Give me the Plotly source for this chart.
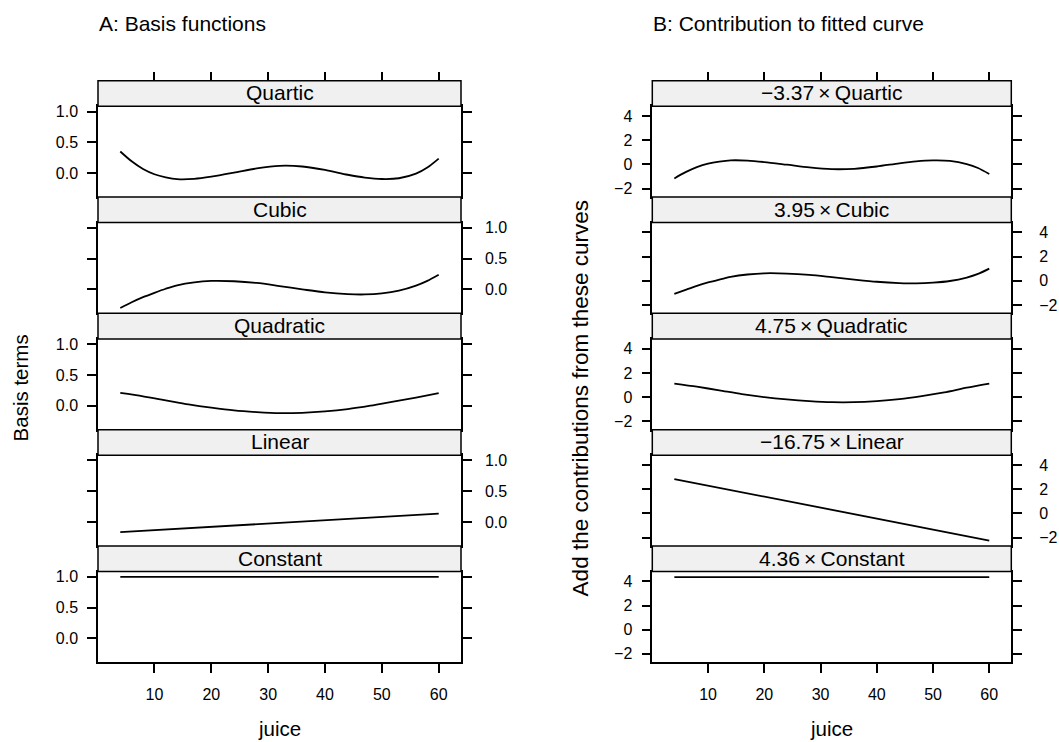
import plotly.graph_objects as go

W, H = 1059, 742

# ---------------- data ----------------
juice = [4, 6, 8, 10, 12, 14, 17, 20, 24, 28, 32, 36, 40, 44, 47, 50, 53, 56, 58, 60]
juice_q = [4, 8, 12, 16, 20, 24, 28, 32, 36, 40, 44, 48, 52, 56, 60]
juice_ends = [4, 60]

# Panel A: basis functions
quartic_A = [0.35, 0.19, 0.065, -0.02, -0.07, -0.10, -0.095, -0.06, 0.005, 0.075,
             0.117, 0.106, 0.05, -0.028, -0.074, -0.097, -0.085, -0.01, 0.09, 0.235]
cubic_A = [-0.303, -0.21, -0.127, -0.056, 0.01, 0.066, 0.115, 0.137, 0.132, 0.104,
           0.054, 0.0, -0.05, -0.078, -0.083, -0.066, -0.022, 0.06, 0.137, 0.236]
quadratic_A = [0.208, 0.153, 0.087, 0.021, -0.033, -0.078, -0.105, -0.122, -0.116,
               -0.094, -0.056, 0.0, 0.066, 0.132, 0.203]
linear_A = [-0.164, 0.136]
constant_A = [1.0, 1.0]

# Panel B: contributions to fitted curve
quartic_B = [-1.16, -0.64, -0.22, 0.07, 0.24, 0.34, 0.32, 0.20, -0.02, -0.25,
             -0.39, -0.36, -0.17, 0.09, 0.25, 0.33, 0.29, 0.03, -0.30, -0.80]
cubic_B = [-1.09, -0.75, -0.42, -0.14, 0.10, 0.32, 0.52, 0.62, 0.60, 0.49,
           0.30, 0.10, -0.08, -0.19, -0.22, -0.16, -0.02, 0.27, 0.57, 1.01]
quadratic_B = [1.12, 0.86, 0.56, 0.25, 0.0, -0.19, -0.33, -0.42, -0.42, -0.33,
               -0.17, 0.08, 0.39, 0.78, 1.12]
linear_B = [2.85, -2.25]
constant_B = [4.36, 4.36]

terms = ["Quartic", "Cubic", "Quadratic", "Linear", "Constant"]
coefs = ["\u22123.37", "3.95", "4.75", "\u221216.75", "4.36"]

xticks = [10, 20, 30, 40, 50, 60]
yticks_A = [0.0, 0.5, 1.0]
yticklabels_A = ["0.0", "0.5", "1.0"]
yticks_B = [-2, 0, 2, 4]
yticklabels_B = ["\u22122", "0", "2", "4"]

series_x = [juice, juice, juice_q, juice_ends, juice_ends]
series_A = [quartic_A, cubic_A, quadratic_A, linear_A, constant_A]
series_B = [quartic_B, cubic_B, quadratic_B, linear_B, constant_B]

# ---------------- layout geometry ----------------
FONT = "Liberation Sans, Arial, Helvetica, sans-serif"
col_px = [(98, 461), (652.3, 1011.3)]
TOP = 78.0
GROUP = 116.8
STRIP = 25.7
XR = [0.08, 63.92]
YR_A = [-0.39, 1.085]
YR_B = [-2.70, 4.82]
LW = 1.5


def fx(p):
    return p / W


def fy(p):
    return 1 - p / H


fig = go.Figure()
layout = dict(
    width=W, height=H,
    margin=dict(l=0, r=0, t=0, b=0),
    paper_bgcolor="white", plot_bgcolor="white",
    showlegend=False,
    font=dict(family=FONT, color="black"),
)
shapes = []
annotations = []

for c in range(2):
    x0, x1 = col_px[c]
    yr = YR_A if c == 0 else YR_B
    ytv = yticks_A if c == 0 else yticks_B
    ytt = yticklabels_A if c == 0 else yticklabels_B
    ydata = series_A if c == 0 else series_B
    for r in range(5):
        n = c * 5 + r + 1
        gtop = TOP + GROUP * r
        sbot = gtop + STRIP
        bbot = gtop + GROUP
        bottom = r == 4
        left = r % 2 == 0
        if left:
            standoff = 6
        else:
            standoff = 10 if c == 0 else 14
        xa = dict(
            domain=[fx(x0), fx(x1)], anchor=f"y{n}", range=XR,
            showgrid=False, zeroline=False, showline=True, mirror=True,
            linecolor="black", linewidth=LW,
            tickvals=xticks, ticktext=[str(v) for v in xticks],
            ticks="outside" if bottom else "", ticklen=9, tickwidth=LW, tickcolor="black",
            showticklabels=bottom, tickfont=dict(size=16, family=FONT),
            ticklabelstandoff=8,
        )
        ya = dict(
            domain=[fy(bbot), fy(sbot)], anchor=f"x{n}", range=yr,
            showgrid=False, zeroline=False, showline=True, mirror="ticks",
            linecolor="black", linewidth=LW,
            tickvals=ytv, ticktext=ytt, ticks="outside", ticklen=9, tickwidth=LW,
            tickcolor="black", side="left" if left else "right",
            tickfont=dict(size=16, family=FONT), ticklabelstandoff=standoff,
        )
        layout[f"xaxis{n}"] = xa
        layout[f"yaxis{n}"] = ya
        fig.add_trace(go.Scatter(
            x=series_x[r], y=ydata[r], mode="lines",
            line=dict(color="black", width=1.8, shape="spline", smoothing=0.8),
            xaxis=f"x{n}", yaxis=f"y{n}", hoverinfo="skip",
        ))
        # strip
        shapes.append(dict(type="rect", xref="paper", yref="paper",
                           x0=fx(x0), x1=fx(x1), y0=fy(sbot), y1=fy(gtop),
                           fillcolor="#F0F0F0", line=dict(color="black", width=LW),
                           layer="above"))
        label = terms[r] if c == 0 else f"{coefs[r]}\u2009\u00d7\u2009{terms[r]}"
        annotations.append(dict(text=label, xref="paper", yref="paper",
                                x=fx((x0 + x1) / 2), y=fy((gtop + sbot) / 2 - 0.5),
                                xanchor="center", yanchor="middle", showarrow=False,
                                font=dict(size=21, family=FONT, color="black")))
    # top tick marks above the first strip
    m = 11 + c
    layout[f"xaxis{m}"] = dict(
        domain=[fx(x0), fx(x1)], overlaying=f"x{c * 5 + 1}", anchor="free",
        position=fy(TOP), side="top", range=XR, showgrid=False, zeroline=False,
        showline=False, tickvals=xticks, ticks="outside", ticklen=9, tickwidth=LW,
        tickcolor="black", showticklabels=False,
    )
    fig.add_trace(go.Scatter(x=[], y=[], mode="lines", xaxis=f"x{m}",
                             yaxis=f"y{c * 5 + 1}", hoverinfo="skip"))
    # x title
    annotations.append(dict(text="juice", xref="paper", yref="paper",
                            x=fx((x0 + x1) / 2), y=fy(728), xanchor="center",
                            yanchor="middle", showarrow=False,
                            font=dict(size=20.5, family=FONT, color="black")))

# panel titles
annotations.append(dict(text="A: Basis functions", xref="paper", yref="paper",
                        x=fx(97), y=fy(21), xanchor="left", yanchor="middle",
                        showarrow=False, font=dict(size=21, family=FONT, color="black")))
annotations.append(dict(text="B: Contribution to fitted curve", xref="paper", yref="paper",
                        x=fx(651), y=fy(21), xanchor="left", yanchor="middle",
                        showarrow=False, font=dict(size=21, family=FONT, color="black")))
# y titles
annotations.append(dict(text="Basis terms", xref="paper", yref="paper",
                        x=fx(20), y=fy(387), xanchor="center", yanchor="middle",
                        textangle=-90, showarrow=False,
                        font=dict(size=20.5, family=FONT, color="black")))
annotations.append(dict(text="Add the contributions from these curves", xref="paper",
                        yref="paper", x=fx(580), y=fy(397), xanchor="center",
                        yanchor="middle", textangle=-90, showarrow=False,
                        font=dict(size=22.5, family=FONT, color="black")))

layout["shapes"] = shapes
layout["annotations"] = annotations
fig.update_layout(**layout)
fig.write_html("out.html", config={"displayModeBar": False})
